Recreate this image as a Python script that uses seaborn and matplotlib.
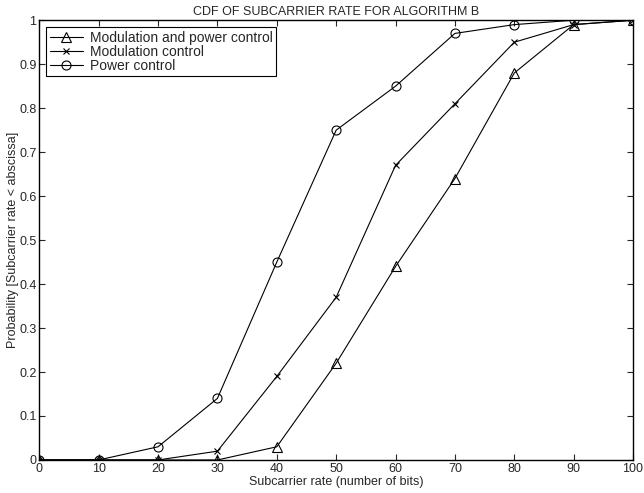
import matplotlib
matplotlib.use("Agg")
import matplotlib.pyplot as plt
import seaborn as sns
import pandas as pd

rates = [0, 10, 20, 30, 40, 50, 60, 70, 80, 90, 100]
mod_power = [0, 0, 0, 0, 0.03, 0.22, 0.44, 0.64, 0.88, 0.99, 1.0]
mod_only = [0, 0, 0, 0.02, 0.19, 0.37, 0.67, 0.81, 0.95, 0.99, 1.0]
power_only = [0, 0, 0.03, 0.14, 0.45, 0.75, 0.85, 0.97, 0.99, 1.0, 1.0]
labels = ["Modulation and power control", "Modulation control", "Power control"]
markers = ["^", "x", "o"]

sns.set_style("ticks")
plt.rcParams['font.family'] = ['Liberation Sans', 'DejaVu Sans']

fig = plt.figure(figsize=(6.44, 4.93), dpi=100)
ax = fig.add_axes([0.061, 0.067, 0.922, 0.892])

df = pd.concat([
    pd.DataFrame({"rate": rates, "p": vals, "series": lab})
    for vals, lab in zip([mod_power, mod_only, power_only], labels)
])

for lab, mk in zip(labels, markers):
    sub = df[df.series == lab]
    sns.lineplot(data=sub, x="rate", y="p", ax=ax, color="black", lw=0.8,
                 marker=mk, markersize=6.5 if mk != "x" else 5,
                 markerfacecolor="none", markeredgecolor="black",
                 markeredgewidth=0.8, label=lab)

ax.set_xlim(0, 100)
ax.set_ylim(0, 1)
ax.set_xticks(rates)
ax.set_yticks([0, 0.1, 0.2, 0.3, 0.4, 0.5, 0.6, 0.7, 0.8, 0.9, 1])
ax.set_yticklabels(["0", "0.1", "0.2", "0.3", "0.4", "0.5", "0.6", "0.7", "0.8", "0.9", "1"])
ax.tick_params(direction="in", top=True, right=True, labelsize=9, length=4, width=0.8, pad=2)
for s in ax.spines.values():
    s.set_linewidth(1.0)
    s.set_color("black")
ax.set_xlabel("Subcarrier rate (number of bits)", fontsize=9, labelpad=1)
ax.set_ylabel("Probability [Subcarrier rate < abscissa]", fontsize=9, labelpad=0)
ax.set_title("CDF OF SUBCARRIER RATE FOR ALGORITHM B", fontsize=9, pad=4)

leg = ax.legend(loc="upper left", fontsize=10, frameon=True, fancybox=False,
                edgecolor="black", framealpha=1, borderpad=0.25, labelspacing=0.0,
                handlelength=2.4, handletextpad=0.5, borderaxespad=0.5)
leg.get_frame().set_linewidth(0.8)

fig.savefig("out.png", dpi=100)
